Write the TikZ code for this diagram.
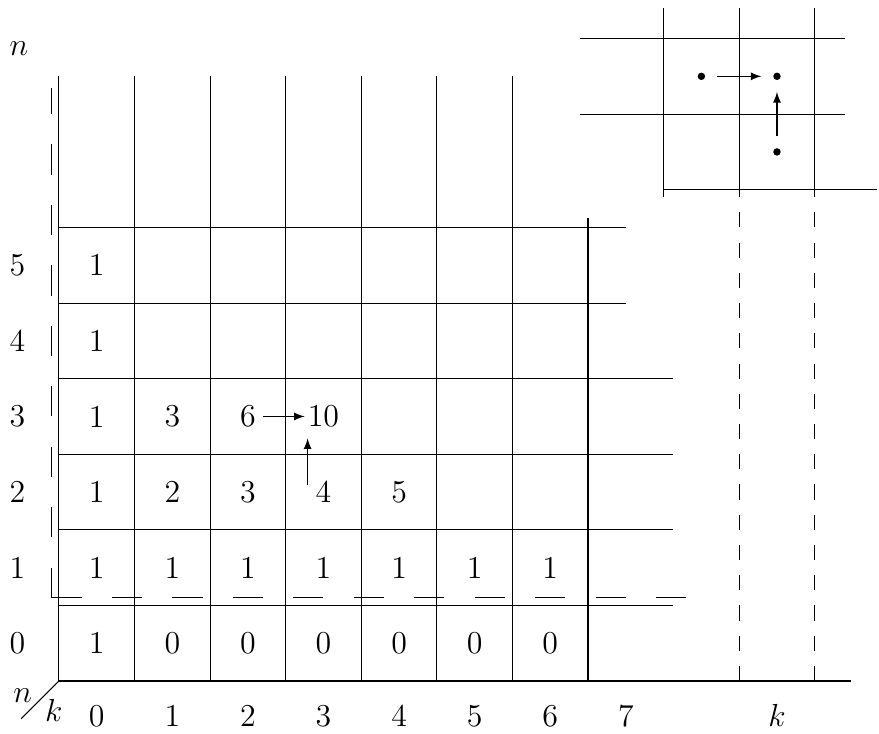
\documentclass[tikz,border=0pt]{standalone}
\usepackage{amsmath, amssymb}
\usetikzlibrary{arrows}

\tikzset{
  cell/.style={inner sep=1pt},
  dot/.style={circle, fill, inner sep=0pt, minimum size=2.8pt},
  longdash/.style={dash pattern=on 0.4cm off 0.4cm},
  shortdash/.style={dash pattern=on 0.2cm off 0.2cm}
}

\begin{document}
\begin{tikzpicture}[>=latex, font=\large]
  \useasboundingbox (-0.78,-0.69) rectangle (10.85,9.01);

  % table grid
  \foreach \x in {0,...,6} \draw (\x,0) -- (\x,8);
  \draw (7,0) -- (7,6.12);
  \draw (0,0) -- (10.48,0);
  \foreach \y in {1,...,4} \draw (0,\y) -- (8.12,\y);
  \foreach \y in {5,6} \draw (0,\y) -- (7.5,\y);

  % dashed borders
  \draw[longdash] (-0.1,1.1) -- (-0.1,7.85);
  \draw[longdash] (-0.1,1.1) -- (8.3,1.1);
  \draw[shortdash] (9,0) -- (9,6.2);
  \draw[shortdash] (10,0) -- (10,6.2);

  % corner
  \draw (0,0) -- (-0.5,-0.5);
  \node (cn) at (-0.48,-0.2) {$n$};
  \node (ck) at (-0.07,-0.39) {$k$};
  \node (axn) at (-0.53,8.37) {$n$};

  % axis labels
  \foreach \r in {0,...,5} \node (row\r) at (-0.55,\r+0.5) {\r};
  \foreach \c in {0,...,7} \node[anchor=base] (col\c) at (\c+0.5,-0.6) {\c};
  \node[anchor=base] (colk) at (9.5,-0.6) {$k$};

  % values
  \foreach \v [count=\c from 0] in {1,0,0,0,0,0,0}
    \node[cell] (c0\c) at (\c+0.5,0.5) {\v};
  \foreach \v [count=\c from 0] in {1,1,1,1,1,1,1}
    \node[cell] (c1\c) at (\c+0.5,1.5) {\v};
  \foreach \v [count=\c from 0] in {1,2,3,4,5}
    \node[cell] (c2\c) at (\c+0.5,2.5) {\v};
  \foreach \v [count=\c from 0] in {1,3,6,10}
    \node[cell] (c3\c) at (\c+0.5,3.5) {\v};
  \node[cell] (c40) at (0.5,4.5) {1};
  \node[cell] (c50) at (0.5,5.5) {1};

  \draw[->, shorten <=0.06cm] (c32) -- (c33);
  \draw[->] ([xshift=-0.21cm,yshift=0.09cm]c23.center) -- ([xshift=-0.21cm,yshift=-0.29cm]c33.center);

  % inset
  \draw (6.9,8.5) -- (10.4,8.5);
  \draw (6.9,7.5) -- (10.4,7.5);
  \draw (8,6.5) -- (10.83,6.5);
  \foreach \x in {8,9,10} \draw (\x,6.4) -- (\x,8.9);
  \node[dot] (pl) at (8.5,8) {};
  \node[dot] (pr) at (9.5,8) {};
  \node[dot] (pb) at (9.5,7) {};
  \draw[->, shorten <=0.15cm, shorten >=0.15cm] (pl) -- (pr);
  \draw[->, shorten <=0.15cm, shorten >=0.15cm] (pb) -- (pr);
\end{tikzpicture}
\end{document}
